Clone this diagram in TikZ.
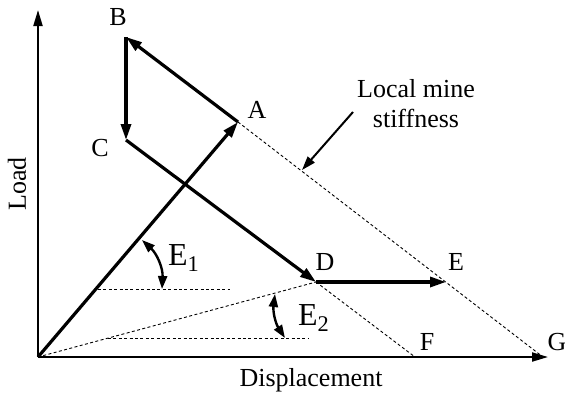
\documentclass[tikz,border=0pt]{standalone}
\usepackage{fontspec}
\setmainfont{Liberation Serif}
\usetikzlibrary{arrows.meta, positioning}
\tikzset{
	lbltext/.style={font=\fontsize{13}{15}\selectfont}
}
\tikzset{
	bigtext/.style={font=\fontsize{16}{18}\selectfont}
}
\tikzset{
	path/.style={line width=1.6pt, -{Triangle[length=8pt,width=5pt]}},
	axis/.style={line width=1pt, -{Triangle[length=8pt,width=4.5pt]}},
	guide/.style={line width=0.45pt, dash pattern=on 1.5pt off 1.2pt},
	anglearrow/.style={line width=1.2pt, {Triangle[length=6.5pt,width=4.5pt]}-{Triangle[length=6.5pt,width=4.5pt]}}
}

\begin{document}
\begin{tikzpicture}[x=0.5pt, y=-0.5pt]
  \useasboundingbox (0,0) rectangle (565,402);
  % points on the load path
  \coordinate (O) at (38,357);
  \coordinate (ytop) at (38,10);
  \coordinate (xend) at (548,357);
  \coordinate (A) at (238,122);
  \coordinate (B) at (126,37);
  \coordinate (C) at (126,140);
  \coordinate (D) at (316,282);
  \coordinate (E) at (446,282);
  \coordinate (F) at (415,357);
  \coordinate (G) at (543,357);
  \coordinate (h1s) at (98,289);
  \coordinate (h1e) at (230,289);
  \coordinate (h2s) at (108,338);
  \coordinate (h2e) at (308,338);
  \coordinate (e1s) at (142,240);
  \coordinate (e1e) at (162,289);
  \coordinate (e2s) at (275,294);
  \coordinate (e2e) at (285,338);
  \coordinate (mtail) at (353,112);
  \coordinate (mhead) at (302,170);
  % axes
  \draw[axis] (O) -- (ytop);
  \draw[axis] (O) -- (xend);
  % dotted guides
  \draw[guide] (A) -- (G);
  \draw[guide] (D) -- (F);
  \draw[guide] (O) -- (D);
  \draw[guide] (h1s) -- (h1e);
  \draw[guide] (h2s) -- (h2e);
  % load path
  \draw[path] (O) -- (A);
  \draw[path] (A) -- (B);
  \draw[path] (B) -- (C);
  \draw[path] (C) -- (D);
  \draw[path] (D) -- (E);
  % angles
  \draw[anglearrow] (e1s) to[bend left=25] (e1e);
  \draw[anglearrow] (e2s) to[bend right=20] (e2e);
  \draw[line width=1pt, -{Triangle[length=7pt,width=4.5pt]}] (mtail) -- (mhead);
  % labels
  \node[lbltext] (lA) at (257,110) {A};
  \node[lbltext] (lB) at (118,17) {B};
  \node[lbltext] (lC) at (100,148) {C};
  \node[lbltext] (lD) at (325,262) {D};
  \node[lbltext] (lE) at (456,262) {E};
  \node[lbltext] (lF) at (427,342) {F};
  \node[lbltext] (lG) at (557,342) {G};
  \node[bigtext] (lE1) at (184,258) {E\textsubscript{1}};
  \node[bigtext] (lE2) at (314,318) {E\textsubscript{2}};
  \node[lbltext, align=center] (lstiff) at (416,104) {Local mine\\stiffness};
  \node[lbltext] (lx) at (311,380) {Displacement};
  \node[lbltext, rotate=90] (ly) at (17,184) {Load};
\end{tikzpicture}
\end{document}
